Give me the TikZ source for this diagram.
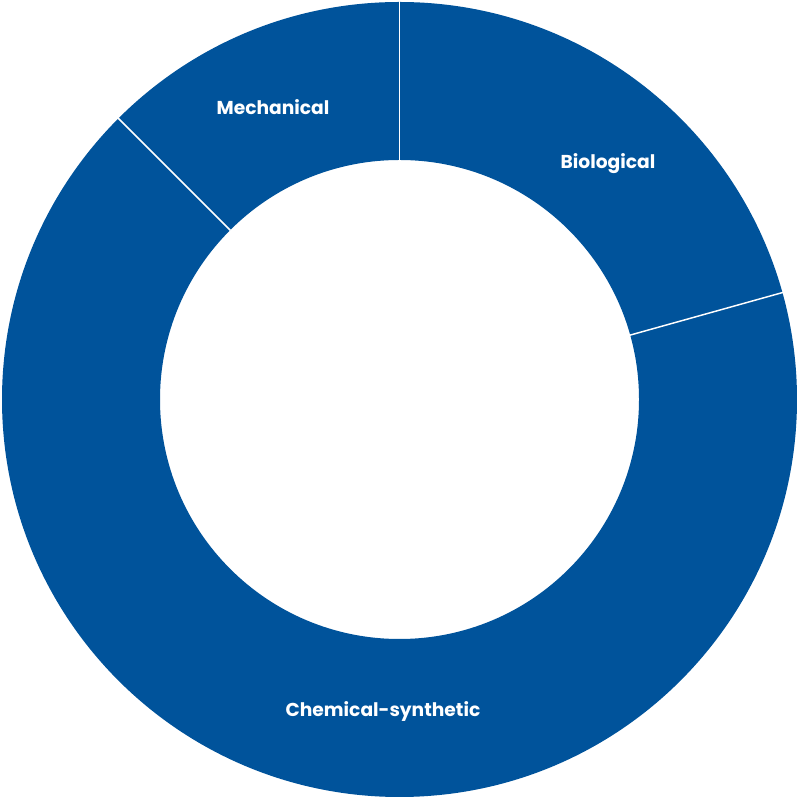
\documentclass[tikz,border=0pt]{standalone}
\usepackage{fontspec}
\setmainfont{Poppins}
\definecolor{pieblue}{RGB}{0,83,155}
\tikzset{
    seglabel/.style={text=white, font=\bfseries\fontsize{14}{16}\selectfont, anchor=center},
    sepline/.style={white, line width=1.1pt}
}
\begin{document}
\begin{tikzpicture}[x=0.75pt,y=0.75pt]
    \useasboundingbox (0,0) rectangle (796,799);
    \begin{scope}[shift={(399.5,399.5)}]
        %% Ring
        \fill[pieblue, even odd rule] (0,0) circle (397.5) (0,0) circle (239.5);
        %% Separators
        \draw[sepline] (90:239) -- (90:398);
        \draw[sepline] (15.6:239) -- (15.6:398);
        \draw[sepline] (135:239) -- (135:398);
    \end{scope}
    %% Labels
    \node[seglabel] (mech) at (273,692) {Mechanical};
    \node[seglabel] (bio) at (608,635) {Biological};
    \node[seglabel] (chem) at (383,88) {Chemical-synthetic};
\end{tikzpicture}
\end{document}
